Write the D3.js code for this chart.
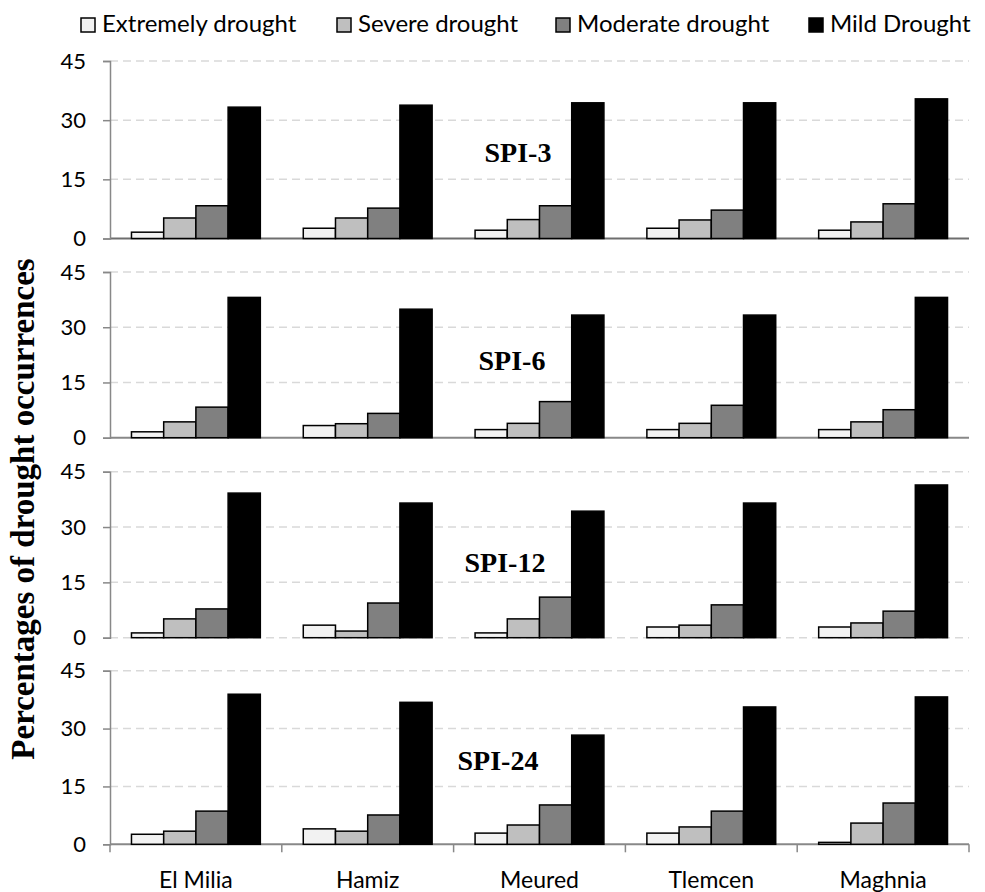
<!DOCTYPE html>
<html lang="en">
<head>
<meta charset="UTF-8">
<title>Percentages of drought occurrences</title>
<script src="https://cdn.jsdelivr.net/npm/d3@7"></script>
<style>
    body { margin: 0; background: #fff; }
    svg { display: block; }
    .lbl { font-family: Lato, "Open Sans", sans-serif; fill: #000; }
    .spi { font-family: "Liberation Serif", "Times New Roman", serif; font-weight: bold; }
</style>
</head>
<body>
<svg id="chart" width="985" height="892"></svg>
<script>
    // stations and drought classes
    const stations = ["El Milia", "Hamiz", "Meured", "Tlemcen", "Maghnia"];
    const classes = ["Extremely drought", "Severe drought", "Moderate drought", "Mild Drought"];
    const panelNames = ["SPI-3", "SPI-6", "SPI-12", "SPI-24"];
    const yTicks = [0, 15, 30, 45];

    // values per station: [extreme, severe, moderate, mild]
    const spi3 = [
        [1.6, 5.2, 8.3, 33.3],
        [2.6, 5.2, 7.7, 33.8],
        [2.1, 4.8, 8.3, 34.4],
        [2.6, 4.7, 7.2, 34.4],
        [2.1, 4.2, 8.8, 35.4]
    ];
    const spi6 = [
        [1.6, 4.3, 8.3, 38.1],
        [3.3, 3.8, 6.6, 34.9],
        [2.2, 3.9, 9.8, 33.3],
        [2.2, 3.9, 8.8, 33.3],
        [2.2, 4.3, 7.6, 38.1]
    ];
    const spi12 = [
        [1.3, 5.1, 7.8, 39.2],
        [3.4, 1.8, 9.4, 36.5],
        [1.3, 5.1, 11.0, 34.3],
        [2.9, 3.4, 8.9, 36.5],
        [2.9, 4.0, 7.2, 41.4]
    ];
    const spi24 = [
        [2.6, 3.4, 8.6, 38.9],
        [4.0, 3.4, 7.6, 36.8],
        [2.9, 5.0, 10.2, 28.3],
        [2.9, 4.5, 8.6, 35.6],
        [0.5, 5.5, 10.7, 38.2]
    ];
    const panelData = [spi3, spi6, spi12, spi24];

    const colors = ["#f2f2f2", "#bfbfbf", "#808080", "#000000"];

    const svg = d3.select("#chart");
    const left = 110, right = 969;

    // vertical extents of each panel (top = 45, bottom = 0)
    const panels = [
        { top: 61, bottom: 238.5, base: "#6e6e6e", baseDash: null, labelX: 518, labelY: 162 },
        { top: 272, bottom: 437.7, base: "#888", baseDash: null, labelX: 512, labelY: 370 },
        { top: 471.7, bottom: 637.7, base: "#d9d9d9", baseDash: "8,5", labelX: 505, labelY: 572 },
        { top: 670.7, bottom: 844.3, base: "#888", baseDash: null, labelX: 498, labelY: 770 }
    ];

    const x0 = d3.scaleBand().domain(stations).range([left, right])
        .paddingInner(0.25).paddingOuter(0.125);
    const x1 = d3.scaleBand().domain(classes).range([0, x0.bandwidth()]);

    panels.forEach((p, i) => {
        const y = d3.scaleLinear().domain([0, 45]).range([p.bottom, p.top]);
        const g = svg.append("g");

        // dashed gridlines
        g.selectAll(".grid").data(yTicks.filter(t => t > 0)).enter().append("line")
            .attr("x1", left).attr("x2", right)
            .attr("y1", d => y(d)).attr("y2", d => y(d))
            .attr("stroke", "#d9d9d9").attr("stroke-width", 1.5)
            .attr("stroke-dasharray", "8,5");

        // baseline (under the bars)
        g.append("line")
            .attr("x1", left).attr("x2", right)
            .attr("y1", y(0)).attr("y2", y(0))
            .attr("stroke", p.base).attr("stroke-width", p.baseDash ? 1.5 : 2)
            .attr("stroke-dasharray", p.baseDash);

        // left axis
        const ax = g.append("g")
            .attr("transform", `translate(${left},0)`)
            .call(d3.axisLeft(y).tickValues(yTicks).tickSize(7).tickPadding(17));
        ax.select(".domain").attr("stroke", "#888").attr("stroke-width", 1.5);
        ax.selectAll(".tick line").attr("stroke", "#888").attr("stroke-width", 1.5);
        ax.selectAll(".tick text").attr("class", "lbl").style("font-size", "22px");

        // bars
        const grp = g.selectAll(".st").data(panelData[i]).enter().append("g")
            .attr("transform", (d, j) => `translate(${x0(stations[j])},0)`);
        grp.selectAll("rect").data(d => d).enter().append("rect")
            .attr("x", (d, k) => x1(classes[k]))
            .attr("y", d => y(d))
            .attr("width", x1.bandwidth())
            .attr("height", d => y(0) - y(d))
            .attr("fill", (d, k) => colors[k])
            .attr("stroke", "#000").attr("stroke-width", 1.5);

        // panel label
        g.append("text").attr("class", "spi")
            .attr("x", p.labelX).attr("y", p.labelY)
            .attr("text-anchor", "middle").style("font-size", "28px")
            .text(panelNames[i]);

        // station axis on last panel only
        if (i === panels.length - 1) {
            const bounds = stations.map(s => x0(s) - x0.step() * x0.paddingOuter());
            bounds.push(right);
            g.selectAll(".ct").data(bounds).enter().append("line")
                .attr("x1", d => d).attr("x2", d => d)
                .attr("y1", y(0)).attr("y2", y(0) + 8)
                .attr("stroke", "#888").attr("stroke-width", 1.5);
            g.selectAll(".cl").data(stations).enter().append("text")
                .attr("class", "lbl")
                .attr("x", d => x0(d) + x0.bandwidth() / 2)
                .attr("y", 888)
                .attr("text-anchor", "middle").style("font-size", "23px")
                .text(d => d);
        }
    });

    // y title
    svg.append("text").attr("class", "spi")
        .attr("transform", "translate(34,509) rotate(-90)")
        .attr("text-anchor", "middle").style("font-size", "33px")
        .text("Percentages of drought occurrences");

    // legend
    const legendX = [81, 337, 556, 809];
    const lg = svg.selectAll(".lg").data(classes).enter().append("g")
        .attr("transform", (d, k) => `translate(${legendX[k]},18)`);
    lg.append("rect").attr("width", 14).attr("height", 14)
        .attr("fill", (d, k) => colors[k]).attr("stroke", "#000").attr("stroke-width", 1.5);
    lg.append("text").attr("class", "lbl")
        .attr("x", 21).attr("y", 14)
        .style("font-size", "24px")
        .text(d => d);
</script>
</body>
</html>
